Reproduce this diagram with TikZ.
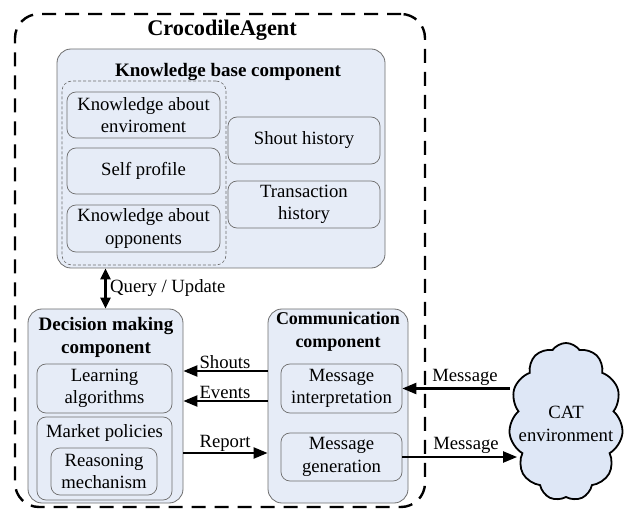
\documentclass[tikz,border=0pt]{standalone}
\usepackage{fontspec}
\setmainfont{Liberation Serif}
\usetikzlibrary{shapes.symbols,arrows.meta,calc}
\definecolor{compfill}{RGB}{230,236,247}
\definecolor{cloudfill}{RGB}{222,231,246}
\definecolor{edgegray}{RGB}{110,110,110}

\begin{document}
\begin{tikzpicture}[x=1pt,y=-1pt,
  font=\fontsize{18.7}{22.5}\selectfont,
  agentbox/.style={draw, line width=2.4pt, dash pattern=on 14pt off 9pt,
    rounded corners=24pt, minimum width=410pt, minimum height=493pt, inner sep=0pt},
  compbox/.style={draw=edgegray, fill=compfill, line width=0.8pt,
    rounded corners=14pt, inner sep=0pt},
  itembox/.style={draw=edgegray, fill=compfill, line width=0.7pt,
    rounded corners=9pt, align=center, inner sep=0pt},
  groupbox/.style={draw=edgegray, dash pattern=on 3pt off 2pt, line width=0.6pt,
    rounded corners=10pt, inner sep=0pt},
  title/.style={font=\fontsize{19}{22.5}\selectfont\bfseries, align=center, inner sep=0pt},
  lbl/.style={inner sep=0pt},
  flow/.style={line width=2.2pt, -{Triangle[length=14pt,width=11pt]}},
  both/.style={line width=2.2pt, {Triangle[length=11pt,width=10pt]}-{Triangle[length=11pt,width=10pt]}},
]
\useasboundingbox (0,0) rectangle (627,513);

% agent boundary
\node[agentbox] (agent) at (220,260.5) {};
\node[title, font=\fontsize{22.3}{26}\selectfont\bfseries] (agenttitle) at (222,30) {CrocodileAgent};

% knowledge base
\node[compbox, minimum width=328pt, minimum height=219pt] (kb) at (221,158.5) {};
\node[title] (kbtitle) at (228,72) {Knowledge base component};
\node[groupbox, minimum width=164pt, minimum height=184pt] (kbgroup) at (144,173) {};
\node[itembox, minimum width=153pt, minimum height=46pt] (env) at (143.5,115) {Knowledge about\\enviroment};
\node[itembox, minimum width=153pt, minimum height=46pt] (self) at (143.5,171) {Self profile};
\node[itembox, minimum width=153pt, minimum height=47pt] (opp) at (143.5,228.5) {Knowledge about\\opponents};
\node[itembox, minimum width=152pt, minimum height=47pt] (shout) at (304,140.5) {Shout history};
\node[itembox, minimum width=152pt, minimum height=47pt] (trans) at (304,204.5) {Transaction\\history};

% decision making
\node[compbox, minimum width=155pt, minimum height=194pt] (dm) at (105.5,406) {};
\node[title] (dmtitle) at (106,337.5) {Decision making\\component};
\node[itembox, minimum width=135pt, minimum height=49pt] (learn) at (104.5,388.5) {Learning\\algorithms};
\node[itembox, minimum width=135pt, minimum height=83pt] (market) at (104.5,458.5) {};
\node[lbl] (markettitle) at (104.5,433) {Market policies};
\node[itembox, minimum width=106pt, minimum height=47pt] (reason) at (104,471.5) {Reasoning\\mechanism};

% communication
\node[compbox, minimum width=140pt, minimum height=194pt] (comm) at (338,406) {};
\node[title, font=\fontsize{18}{22.5}\selectfont\bfseries] (commtitle) at (338,331.5) {Communication\\component};
\node[itembox, minimum width=121pt, minimum height=49pt] (msgint) at (341.5,388.5) {Message\\interpretation};
\node[itembox, minimum width=121pt, minimum height=48pt] (msggen) at (341.5,457) {Message\\generation};

% environment
\node[cloud, draw, line width=1.8pt, fill=cloudfill, cloud puffs=11, cloud puff arc=110,
  cloud ignores aspect, minimum width=114pt, minimum height=158pt, inner sep=0pt] (cat) at (566,422) {};
\node[lbl, align=center] (cattext) at (566,424) {CAT\\environment};

% connectors
\draw[both] (dm.north) -- (dm.north |- kb.south);
\node[lbl, anchor=west] (querylbl) at (110,288) {Query / Update};

\draw[flow] (comm.west |- 0,371) -- (dm.east |- 0,371);
\node[lbl] (shoutslbl) at (225,362) {Shouts};
\draw[flow] (comm.west |- 0,401) -- (dm.east |- 0,401);
\node[lbl] (eventslbl) at (225,392) {Events};
\draw[flow] (dm.east |- 0,453) -- (comm.west |- 0,453);
\node[lbl] (reportlbl) at (225,443) {Report};

\draw[flow] (cat.west |- msgint.east) -- (msgint.east);
\node[lbl] (msginlbl) at (465,377) {Message};
\draw[flow] (msggen.east) -- ($(cat.west |- msggen.east)+(7,0)$);
\node[lbl] (msgoutlbl) at (466,445) {Message};
\end{tikzpicture}
\end{document}
